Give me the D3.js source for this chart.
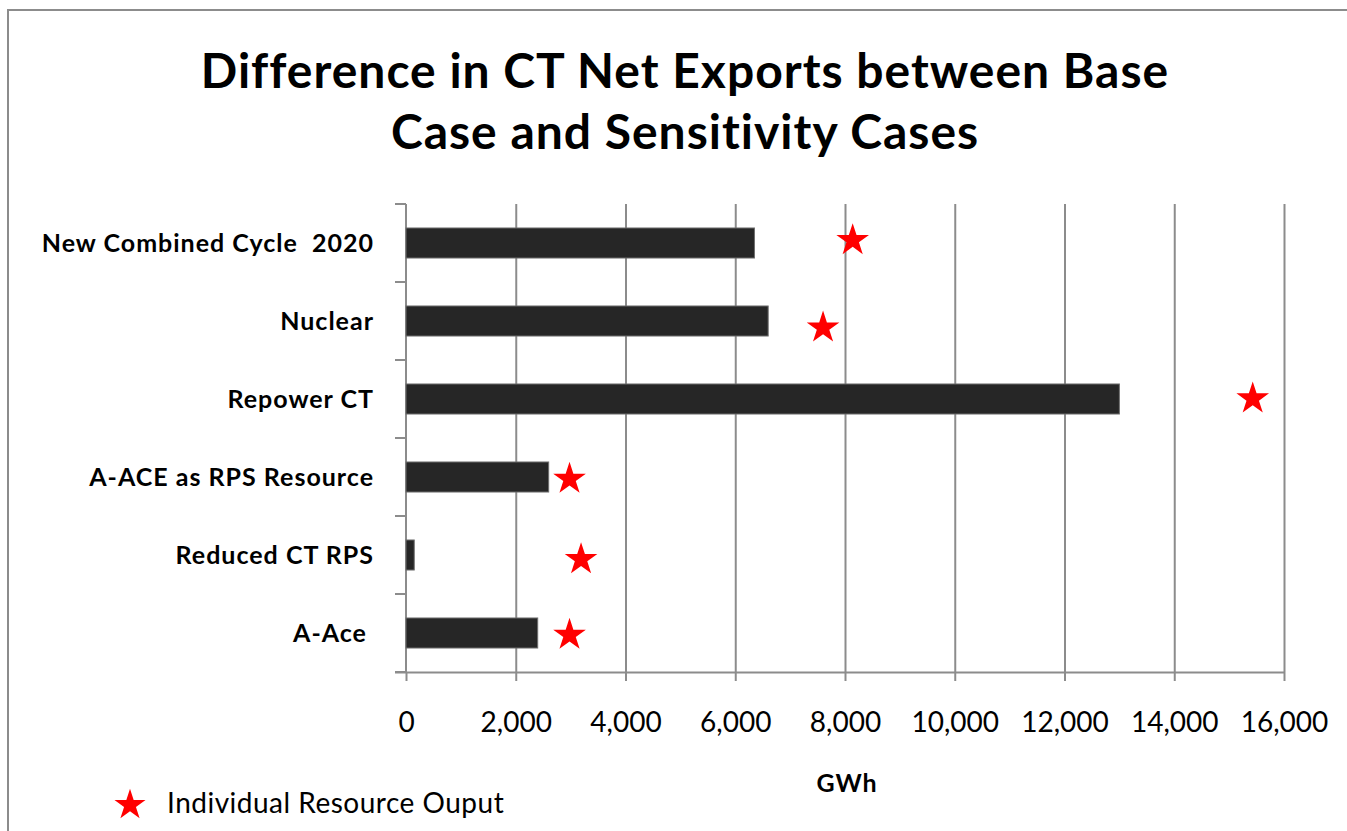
<!DOCTYPE html>
<html>
<head>
<meta charset="utf-8">
<script src="https://cdn.jsdelivr.net/npm/d3@7"></script>
<style>
  html, body { margin: 0; padding: 0; background: #fff; }
  svg { display: block; }
  text { font-family: Lato, "Open Sans", sans-serif; fill: #000; }
</style>
</head>
<body>
<svg id="chart" width="1347" height="831"></svg>
<script>
// Sensitivity cases, top to bottom
const categories = [
  "New Combined Cycle  2020",
  "Nuclear",
  "Repower CT",
  "A-ACE as RPS Resource",
  "Reduced CT RPS",
  "A-Ace "
];
// Difference in CT net exports vs. base case (GWh)
const exportDiff = [6350, 6600, 13000, 2600, 150, 2400];
// Individual resource output (GWh), plotted as stars
const resourceOutput = [8140, 7600, 15430, 2980, 3190, 2980];
// Vertical position of each star on the 0–6 secondary scale
const outputRow = [5.56, 4.44, 3.53, 2.5, 1.47, 0.5];
// Horizontal axis ticks
const xTicks = [0, 2000, 4000, 6000, 8000, 10000, 12000, 14000, 16000];

const titleLines = ["Difference in CT Net Exports between Base", "Case and Sensitivity Cases"];
const xAxisTitle = "GWh";
const legendLabel = "Individual Resource Ouput";

const svg = d3.select("#chart");
const grey = "#8c8c8c";

// outer chart frame
svg.append("rect")
  .attr("x", 8).attr("y", 10)
  .attr("width", 1400).attr("height", 900)
  .attr("fill", "none").attr("stroke", grey).attr("stroke-width", 2);

const plot = { left: 406, right: 1284, top: 204, bottom: 672 };

const x = d3.scaleLinear().domain([0, 16000]).range([plot.left, plot.right]);
const y = d3.scaleBand().domain(categories)
  .range([plot.top, plot.bottom])
  .paddingInner(0.615).paddingOuter(0.3075);
const yStar = d3.scaleLinear().domain([0, 6]).range([plot.bottom, plot.top]);

// title
svg.append("g").selectAll("text").data(titleLines).join("text")
  .attr("x", 685)
  .attr("y", (d, i) => 88 + i * 61)
  .attr("text-anchor", "middle")
  .attr("font-size", 48).attr("font-weight", "bold")
  .attr("letter-spacing", 1)
  .text(d => d);

// vertical gridlines
svg.append("g")
  .attr("transform", `translate(0,${plot.bottom})`)
  .call(d3.axisBottom(x).tickValues(xTicks.filter(t => t > 0))
        .tickSize(-(plot.bottom - plot.top)).tickFormat(""))
  .call(g => g.select(".domain").remove())
  .call(g => g.selectAll("line").attr("stroke", grey).attr("stroke-width", 2));

// x axis
svg.append("g")
  .attr("transform", `translate(0,${plot.bottom})`)
  .call(d3.axisBottom(x).tickValues(xTicks).tickFormat(d3.format(","))
        .tickSize(9).tickPadding(31).tickSizeOuter(0))
  .call(g => g.select(".domain").attr("stroke", grey).attr("stroke-width", 2)
        .attr("d", `M${plot.left - 11},0.5H${plot.right}`))
  .call(g => g.selectAll(".tick line").attr("stroke", grey).attr("stroke-width", 2))
  .call(g => g.selectAll(".tick text").attr("font-size", 28)
        .attr("font-family", "Lato, sans-serif").attr("fill", "#000"));

// y axis line and ticks at category boundaries
const yAxis = svg.append("g");
yAxis.append("line")
  .attr("x1", x(0)).attr("x2", x(0))
  .attr("y1", plot.top).attr("y2", plot.bottom)
  .attr("stroke", grey).attr("stroke-width", 2);
yAxis.selectAll("line.tick").data(d3.range(categories.length + 1)).join("line")
  .attr("class", "tick")
  .attr("x1", x(0) - 11).attr("x2", x(0))
  .attr("y1", i => y.range()[0] + i * y.step())
  .attr("y2", i => y.range()[0] + i * y.step())
  .attr("stroke", grey).attr("stroke-width", 2);

// category labels
svg.append("g").selectAll("text").data(categories).join("text")
  .attr("x", 374)
  .attr("y", d => y(d) + y.bandwidth() / 2)
  .attr("dy", "0.35em")
  .attr("text-anchor", "end")
  .attr("font-size", 25).attr("font-weight", "bold")
  .attr("letter-spacing", 1)
  .style("white-space", "pre")
  .text(d => d);

// bars
svg.append("g").selectAll("rect").data(categories).join("rect")
  .attr("x", x(0))
  .attr("y", d => y(d))
  .attr("width", (d, i) => x(exportDiff[i]) - x(0))
  .attr("height", y.bandwidth())
  .attr("fill", "#262626")
  .attr("stroke", "#6e6e6e").attr("stroke-width", 1);

// stars
const star = d3.symbol().type(d3.symbolStar).size(330);
svg.append("g").selectAll("path").data(resourceOutput).join("path")
  .attr("d", star)
  .attr("transform", (d, i) => `translate(${x(d)},${yStar(outputRow[i]) + 2})`)
  .attr("fill", "#ff0000");

// x axis title
svg.append("text")
  .attr("x", 847).attr("y", 783).attr("dy", "0.35em")
  .attr("text-anchor", "middle")
  .attr("font-size", 25).attr("font-weight", "bold")
  .attr("letter-spacing", 1)
  .text(xAxisTitle);

// legend
svg.append("path")
  .attr("d", d3.symbol().type(d3.symbolStar).size(300))
  .attr("transform", "translate(130,805)")
  .attr("fill", "#ff0000");
svg.append("text")
  .attr("x", 167).attr("y", 803).attr("dy", "0.35em")
  .attr("font-size", 28)
  .attr("letter-spacing", 0.5)
  .text(legendLabel);
</script>
</body>
</html>
